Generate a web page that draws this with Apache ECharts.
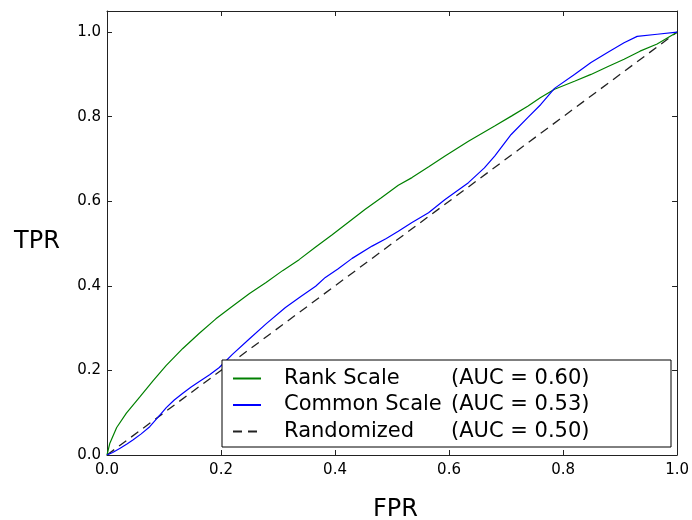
<!DOCTYPE html>
<html>
<head>
<meta charset="utf-8">
<script src="https://cdn.jsdelivr.net/npm/echarts@6/dist/echarts.min.js"></script>
<style>html,body{margin:0;padding:0;background:#fff}#c{width:692px;height:520px}</style>
</head>
<body>
<div id="c"></div>
<script>
var xTicks = [0, 0.2, 0.4, 0.6, 0.8, 1.0];
var yTicks = [0, 0.2, 0.4, 0.6, 0.8, 1.0];

var rankFpr = [0,0.005,0.017,0.034,0.058,0.081,0.104,0.133,0.162,0.191,0.22,0.25,0.279,0.308,0.337,0.366,0.395,0.424,0.453,0.48,0.511,0.535,0.565,0.593,0.634,0.68,0.71,0.738,0.76,0.785,0.82,0.849,0.878,0.907,0.935,0.965,0.985,1];
var rankTpr = [0,0.028,0.065,0.099,0.138,0.176,0.212,0.252,0.288,0.322,0.352,0.382,0.408,0.436,0.462,0.492,0.521,0.551,0.581,0.607,0.638,0.656,0.682,0.707,0.742,0.778,0.802,0.825,0.845,0.865,0.884,0.9,0.918,0.936,0.955,0.972,0.988,1];

var commonFpr = [0,0.01,0.023,0.035,0.046,0.06,0.075,0.09,0.104,0.118,0.133,0.147,0.162,0.18,0.197,0.22,0.25,0.279,0.313,0.34,0.366,0.383,0.405,0.43,0.465,0.49,0.511,0.535,0.564,0.593,0.634,0.662,0.68,0.709,0.738,0.761,0.785,0.82,0.849,0.878,0.907,0.93,0.965,1];
var commonTpr = [0,0.006,0.016,0.026,0.036,0.05,0.067,0.09,0.112,0.13,0.146,0.16,0.174,0.19,0.207,0.238,0.275,0.31,0.349,0.375,0.399,0.42,0.44,0.465,0.494,0.512,0.529,0.55,0.573,0.604,0.644,0.679,0.707,0.758,0.798,0.829,0.867,0.9,0.928,0.952,0.975,0.99,0.995,1];

var randFpr = [0, 1];
var randTpr = [0, 1];

var seriesNames = ['Rank Scale', 'Common Scale', 'Randomized'];
var aucLabels = ['(AUC = 0.60)', '(AUC = 0.53)', '(AUC = 0.50)'];

function pairs(xs, ys) { return xs.map(function (x, i) { return [x, ys[i]]; }); }

var FONT = 'DejaVu Sans';
var axisLineStyle = { color: '#222', width: 1 };

var chart = echarts.init(document.getElementById('c'), null, { renderer: 'canvas' });
chart.setOption({
  animation: false,
  backgroundColor: '#fff',
  grid: { left: 107, right: 12, top: 11, bottom: 65, containLabel: false },
  xAxis: [{
    type: 'value', min: 0, max: 1, interval: 0.2, position: 'bottom',
    axisLine: { show: true, onZero: false, lineStyle: axisLineStyle },
    axisTick: { show: true, inside: true, length: 5, lineStyle: axisLineStyle },
    splitLine: { show: false },
    axisLabel: { margin: 8, fontFamily: FONT, fontSize: 15, color: '#000',
      formatter: function (v) { return v.toFixed(1); } }
  }, {
    type: 'value', min: 0, max: 1, interval: 0.2, position: 'top',
    axisLine: { show: true, onZero: false, lineStyle: axisLineStyle },
    axisTick: { show: true, inside: true, length: 5, lineStyle: axisLineStyle },
    splitLine: { show: false }, axisLabel: { show: false }
  }],
  yAxis: [{
    type: 'value', min: 0, max: 1.05, interval: 0.2, position: 'left',
    axisLine: { show: true, onZero: false, lineStyle: axisLineStyle },
    axisTick: { show: true, inside: true, length: 5, lineStyle: axisLineStyle },
    splitLine: { show: false },
    axisLabel: { margin: 6, fontFamily: FONT, fontSize: 15, color: '#000', showMaxLabel: false,
      formatter: function (v) { return yTicks.some(function (t) { return Math.abs(t - v) < 1e-6; }) ? v.toFixed(1) : ''; } }
  }, {
    type: 'value', min: 0, max: 1.05, interval: 0.2, position: 'right',
    axisLine: { show: true, onZero: false, lineStyle: axisLineStyle },
    axisTick: { show: true, inside: true, length: 5, lineStyle: axisLineStyle },
    splitLine: { show: false }, axisLabel: { show: false }
  }],
  legend: {
    orient: 'vertical', left: 222, top: 360,
    padding: [8, 10, 5, 10], itemWidth: 28, itemHeight: 14, itemGap: 5.5,
    borderColor: '#000', borderWidth: 1, borderRadius: 0, backgroundColor: '#fff',
    itemStyle: { opacity: 0 },
    data: seriesNames,
    formatter: function (name) {
      var i = seriesNames.indexOf(name);
      return '{a|' + name + '}{b|' + aucLabels[i] + '}';
    },
    textStyle: {
      fontFamily: FONT, fontSize: 21, color: '#000',
      rich: {
        a: { fontFamily: FONT, fontSize: 21, color: '#000', width: 167, padding: [0, 0, 0, 18], lineHeight: 24 },
        b: { fontFamily: FONT, fontSize: 21, color: '#000', width: 210, lineHeight: 24 }
      }
    }
  },
  graphic: [
    { type: 'text', left: 14, top: 230, style: { text: 'TPR', fontFamily: FONT, fontSize: 24, fill: '#000' } },
    { type: 'text', left: 373, top: 498, style: { text: 'FPR', fontFamily: FONT, fontSize: 24, fill: '#000' } }
  ],
  series: [{
    name: seriesNames[0], type: 'line', data: pairs(rankFpr, rankTpr),
    symbol: 'none', smooth: false, lineStyle: { color: '#008000', width: 1.2 }, itemStyle: { color: '#008000' }, z: 3
  }, {
    name: seriesNames[1], type: 'line', data: pairs(commonFpr, commonTpr),
    symbol: 'none', smooth: false, lineStyle: { color: '#0000ff', width: 1.2 }, itemStyle: { color: '#0000ff' }, z: 3
  }, {
    name: seriesNames[2], type: 'line', data: pairs(randFpr, randTpr),
    symbol: 'none', lineStyle: { color: '#222', width: 1.3, type: [9, 6] }, itemStyle: { color: '#222' }, z: 2
  }]
});
</script>
</body>
</html>
